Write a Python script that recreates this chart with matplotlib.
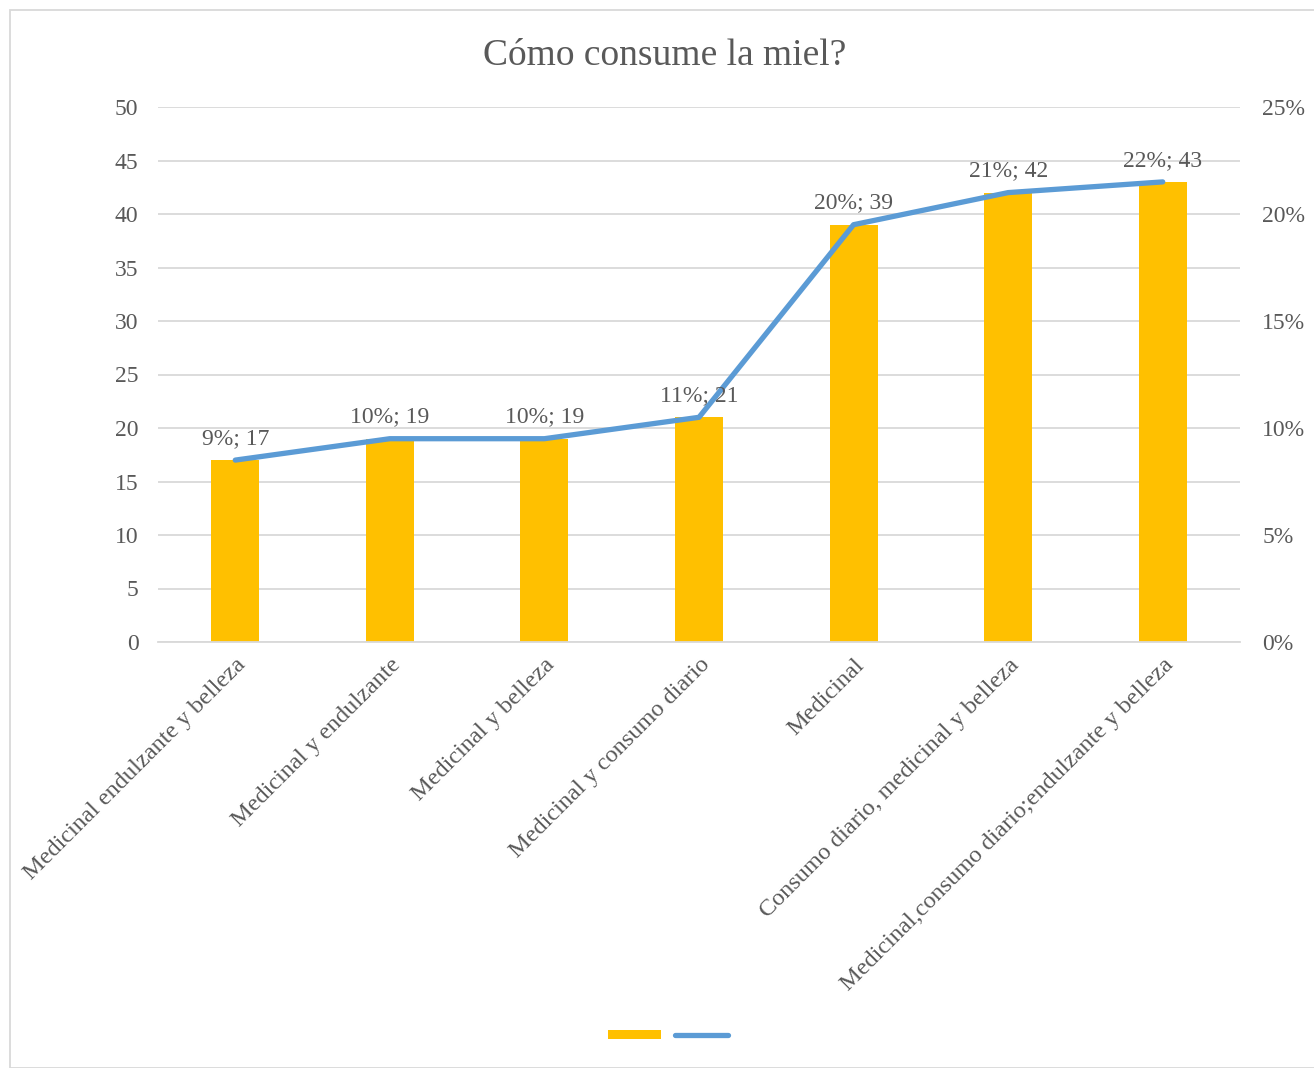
import matplotlib
matplotlib.use("Agg")
import matplotlib.pyplot as plt
from matplotlib.patches import Rectangle, Patch
from matplotlib.lines import Line2D
import numpy as np

categories = ["Medicinal endulzante y belleza", "Medicinal y endulzante", "Medicinal y belleza",
              "Medicinal y consumo diario", "Medicinal", "Consumo diario, medicinal y belleza",
              "Medicinal,consumo diario;endulzante y belleza"]
counts = [17, 19, 19, 21, 39, 42, 43]
left_ticks = [0, 5, 10, 15, 20, 25, 30, 35, 40, 45, 50]
right_ticks = [0, 0.05, 0.10, 0.15, 0.20, 0.25]
title = "Cómo consume la miel?"

plt.rcParams['font.family'] = ['Liberation Serif', 'DejaVu Serif']
txt = '#595959'
grid = '#D9D9D9'

fig = plt.figure(figsize=(13.14, 10.68), dpi=100)
ax = fig.add_axes([158/1314, 1-642/1068, (1240-158)/1314, (642-107)/1068])
ax2 = ax.twinx()

x = np.arange(len(categories))
total = sum(counts)
pct = [c/total for c in counts]

ax.bar(x, counts, width=0.31, color='#FFC000', zorder=2)
ax.set_ylim(0, 50)
ax.set_xlim(-0.5, len(categories)-0.5)
ax.set_yticks(left_ticks)
ax.yaxis.grid(True, color=grid, linewidth=1.3, zorder=0)
ax.set_axisbelow(True)
ax.tick_params(axis='y', length=0, labelsize=17, labelcolor=txt, pad=14)
ax.tick_params(axis='x', length=0, labelsize=17.5, labelcolor=txt, pad=9)
ax.set_xticks(x)
ax.set_xticklabels(categories, rotation=45, ha='right', va='top', rotation_mode='anchor')
for s in ['top', 'right', 'left']:
    ax.spines[s].set_visible(False)
ax.spines['bottom'].set_color(grid)
ax.spines['bottom'].set_linewidth(1.3)

ax2.plot(x, pct, color='#5B9BD5', linewidth=3.8, solid_capstyle='round', zorder=3)
ax2.set_ylim(0, 0.25)
ax2.set_yticks(right_ticks)
ax2.set_yticklabels([f"{int(round(t*100))}%" for t in right_ticks])
ax2.tick_params(axis='y', length=0, labelsize=17, labelcolor=txt, pad=16)
for s in ['top', 'right', 'left', 'bottom']:
    ax2.spines[s].set_visible(False)

for xi, p, c in zip(x, pct, counts):
    ax2.annotate(f"{int(np.floor(p*100+0.5))}%; {c}", (xi, p), xytext=(0, 8), textcoords='offset points',
                 ha='center', va='bottom', fontsize=17, color=txt)

fig.text(665/1314, 1-56/1068, title, ha='center', va='center', fontsize=27, color=txt)

handles = [Patch(facecolor='#FFC000', edgecolor='none'),
           Line2D([0], [0], color='#5B9BD5', linewidth=3.8, solid_capstyle='round')]
fig.legend(handles, ['', ''], loc='center', bbox_to_anchor=(668/1314, 1-1036/1068), ncol=2,
           frameon=False, handlelength=3.8, handleheight=0.6, handletextpad=0.0, columnspacing=1.0)

fig.patches.append(Rectangle((10/1314, 0), 1.2, (1068-10)/1068, transform=fig.transFigure,
                             fill=False, edgecolor=grid, linewidth=1.3))

fig.savefig("out.png", dpi=100)
